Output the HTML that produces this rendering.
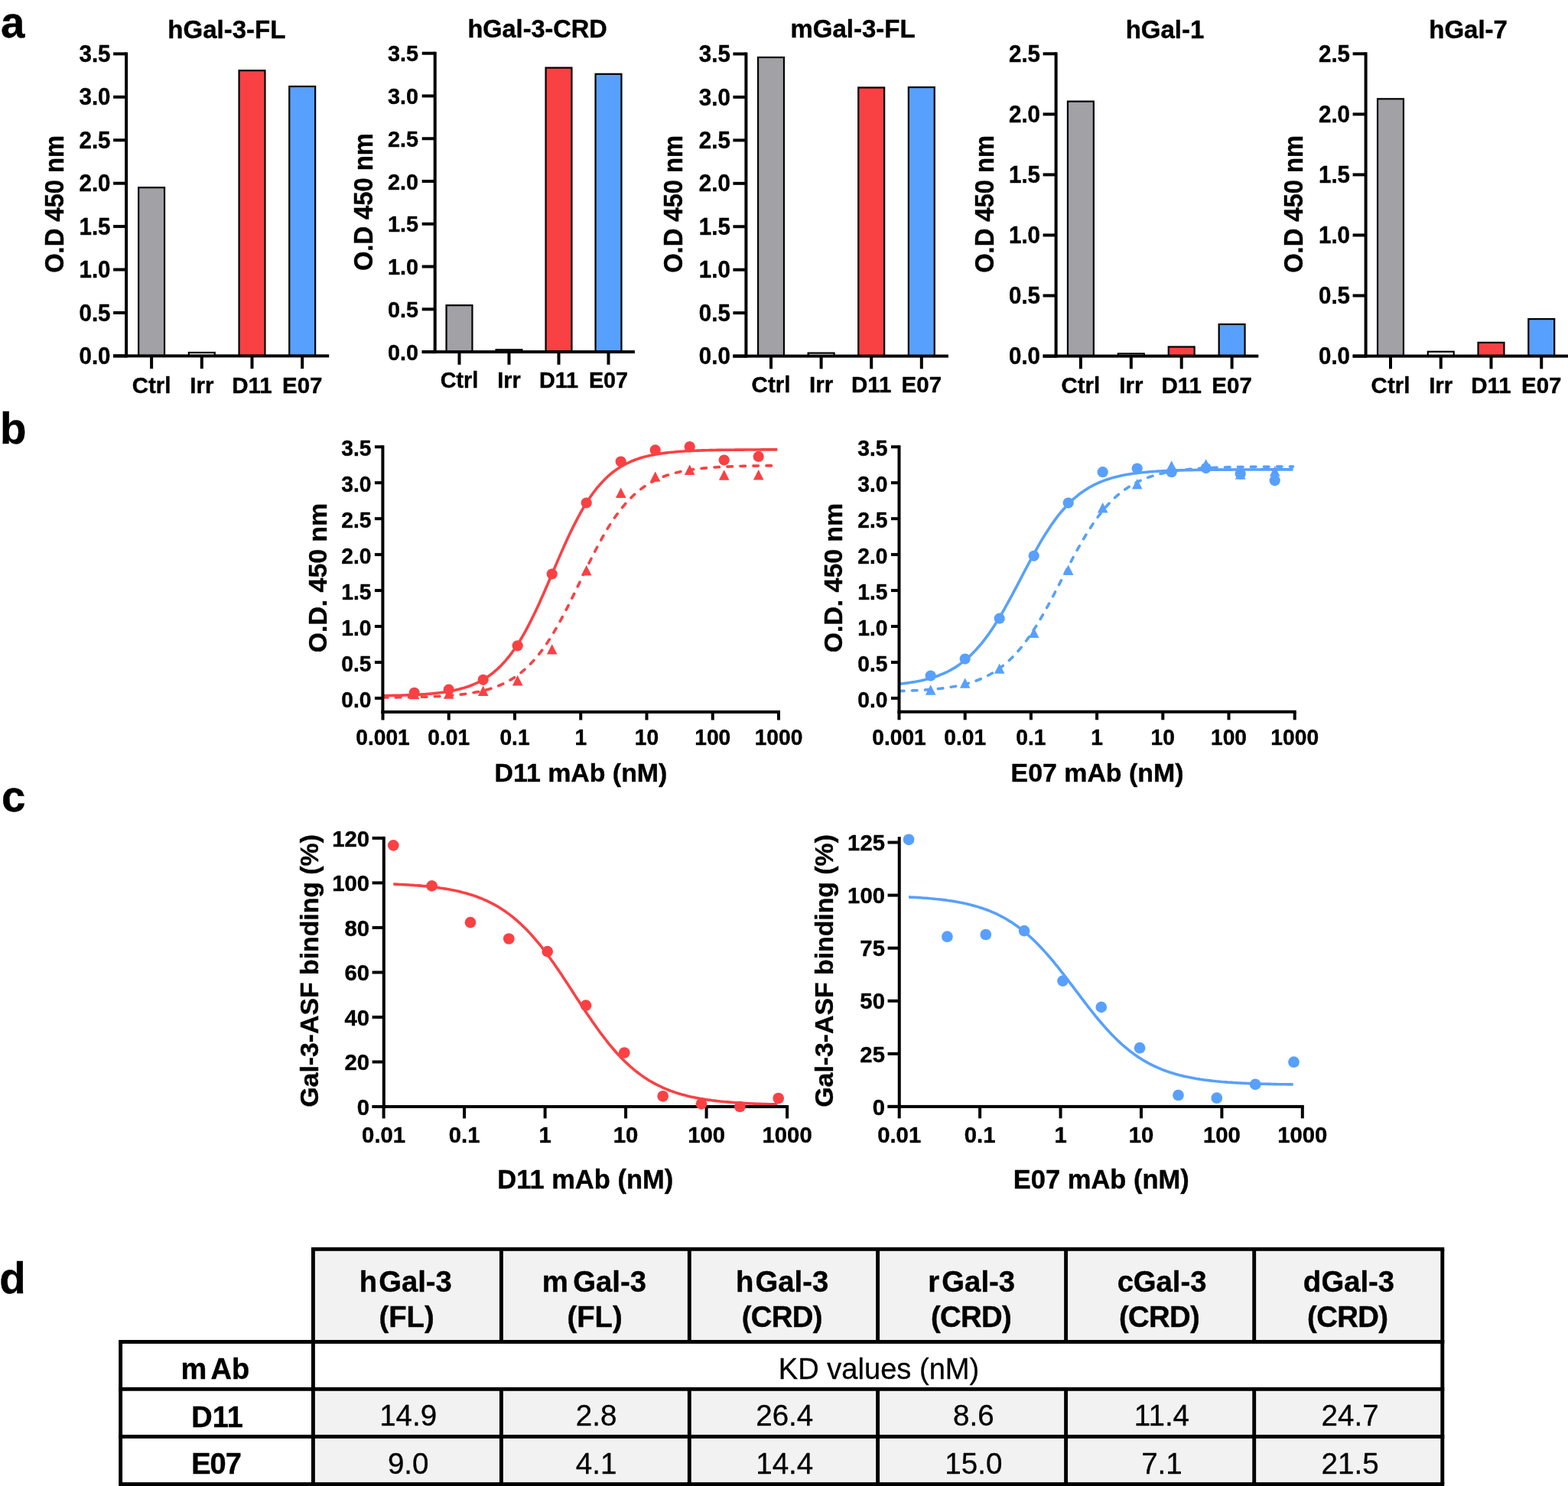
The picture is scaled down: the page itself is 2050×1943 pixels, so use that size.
<!DOCTYPE html>
<html lang="en"><head><meta charset="utf-8"><title>Figure</title>
<style>html,body{margin:0;padding:0;background:#fff}body{width:2050px;height:1943px}svg{display:block}</style>
</head><body>
<svg width="2050" height="1943" viewBox="0 0 2050 1943" font-family='"Liberation Sans", sans-serif' font-weight="bold" fill="#000" stroke="none">
<rect x="0.00" y="0.00" width="2050.00" height="1943.00" fill="#fff"/>
<rect x="181.15" y="245.20" width="33.90" height="220.20" fill="#a2a1a6" stroke="#000" stroke-width="2.2"/>
<rect x="246.85" y="461.00" width="33.90" height="4.40" fill="#ffffff" stroke="#000" stroke-width="2.2"/>
<rect x="312.55" y="92.20" width="33.90" height="373.20" fill="#f94144" stroke="#000" stroke-width="2.2"/>
<rect x="378.25" y="113.00" width="33.90" height="352.40" fill="#57a0fd" stroke="#000" stroke-width="2.2"/>
<rect x="163.10" y="68.40" width="4.00" height="399.00" fill="#000"/>
<rect x="148.10" y="463.40" width="282.10" height="4.00" fill="#000"/>
<rect x="148.10" y="68.40" width="17.00" height="4.00" fill="#000"/>
<text transform="translate(144.50 81.00) scale(1 1.05)" font-size="29.5" text-anchor="end" stroke="#000" stroke-width="0.4" stroke-linejoin="round">3.5</text>
<rect x="148.10" y="124.83" width="17.00" height="4.00" fill="#000"/>
<text transform="translate(144.50 137.43) scale(1 1.05)" font-size="29.5" text-anchor="end" stroke="#000" stroke-width="0.4" stroke-linejoin="round">3.0</text>
<rect x="148.10" y="181.26" width="17.00" height="4.00" fill="#000"/>
<text transform="translate(144.50 193.86) scale(1 1.05)" font-size="29.5" text-anchor="end" stroke="#000" stroke-width="0.4" stroke-linejoin="round">2.5</text>
<rect x="148.10" y="237.69" width="17.00" height="4.00" fill="#000"/>
<text transform="translate(144.50 250.29) scale(1 1.05)" font-size="29.5" text-anchor="end" stroke="#000" stroke-width="0.4" stroke-linejoin="round">2.0</text>
<rect x="148.10" y="294.11" width="17.00" height="4.00" fill="#000"/>
<text transform="translate(144.50 306.71) scale(1 1.05)" font-size="29.5" text-anchor="end" stroke="#000" stroke-width="0.4" stroke-linejoin="round">1.5</text>
<rect x="148.10" y="350.54" width="17.00" height="4.00" fill="#000"/>
<text transform="translate(144.50 363.14) scale(1 1.05)" font-size="29.5" text-anchor="end" stroke="#000" stroke-width="0.4" stroke-linejoin="round">1.0</text>
<rect x="148.10" y="406.97" width="17.00" height="4.00" fill="#000"/>
<text transform="translate(144.50 419.57) scale(1 1.05)" font-size="29.5" text-anchor="end" stroke="#000" stroke-width="0.4" stroke-linejoin="round">0.5</text>
<rect x="148.10" y="463.40" width="17.00" height="4.00" fill="#000"/>
<text transform="translate(144.50 476.00) scale(1 1.05)" font-size="29.5" text-anchor="end" stroke="#000" stroke-width="0.4" stroke-linejoin="round">0.0</text>
<rect x="196.10" y="465.40" width="4.00" height="16.70" fill="#000"/>
<text transform="translate(198.10 513.60)" font-size="29.5" text-anchor="middle" stroke="#000" stroke-width="0.4" stroke-linejoin="round">Ctrl</text>
<rect x="261.80" y="465.40" width="4.00" height="16.70" fill="#000"/>
<text transform="translate(263.80 513.60)" font-size="29.5" text-anchor="middle" stroke="#000" stroke-width="0.4" stroke-linejoin="round">Irr</text>
<rect x="327.50" y="465.40" width="4.00" height="16.70" fill="#000"/>
<text transform="translate(329.50 513.60)" font-size="29.5" text-anchor="middle" stroke="#000" stroke-width="0.4" stroke-linejoin="round">D11</text>
<rect x="393.20" y="465.40" width="4.00" height="16.70" fill="#000"/>
<text transform="translate(395.20 513.60)" font-size="29.5" text-anchor="middle" stroke="#000" stroke-width="0.4" stroke-linejoin="round">E07</text>
<text transform="translate(296.30 49.70)" font-size="33" text-anchor="middle" stroke="#000" stroke-width="0.4" stroke-linejoin="round">hGal-3-FL</text>
<text transform="translate(83.00 266.90) rotate(-90) scale(1 1.065)" font-size="32.7" text-anchor="middle" stroke="#000" stroke-width="0.4" stroke-linejoin="round">O.D 450 nm</text>
<rect x="583.55" y="399.20" width="33.90" height="60.90" fill="#a2a1a6" stroke="#000" stroke-width="2.2"/>
<rect x="648.55" y="457.30" width="33.90" height="2.80" fill="#ffffff" stroke="#000" stroke-width="2.2"/>
<rect x="713.55" y="88.60" width="33.90" height="371.50" fill="#f94144" stroke="#000" stroke-width="2.2"/>
<rect x="778.55" y="96.80" width="33.90" height="363.30" fill="#57a0fd" stroke="#000" stroke-width="2.2"/>
<rect x="566.70" y="67.70" width="4.00" height="394.40" fill="#000"/>
<rect x="551.70" y="458.10" width="278.20" height="4.00" fill="#000"/>
<rect x="551.70" y="67.70" width="17.00" height="4.00" fill="#000"/>
<text transform="translate(546.90 80.30) scale(1 1.05)" font-size="28.8" text-anchor="end" stroke="#000" stroke-width="0.4" stroke-linejoin="round">3.5</text>
<rect x="551.70" y="123.47" width="17.00" height="4.00" fill="#000"/>
<text transform="translate(546.90 136.07) scale(1 1.05)" font-size="28.8" text-anchor="end" stroke="#000" stroke-width="0.4" stroke-linejoin="round">3.0</text>
<rect x="551.70" y="179.24" width="17.00" height="4.00" fill="#000"/>
<text transform="translate(546.90 191.84) scale(1 1.05)" font-size="28.8" text-anchor="end" stroke="#000" stroke-width="0.4" stroke-linejoin="round">2.5</text>
<rect x="551.70" y="235.01" width="17.00" height="4.00" fill="#000"/>
<text transform="translate(546.90 247.61) scale(1 1.05)" font-size="28.8" text-anchor="end" stroke="#000" stroke-width="0.4" stroke-linejoin="round">2.0</text>
<rect x="551.70" y="290.79" width="17.00" height="4.00" fill="#000"/>
<text transform="translate(546.90 303.39) scale(1 1.05)" font-size="28.8" text-anchor="end" stroke="#000" stroke-width="0.4" stroke-linejoin="round">1.5</text>
<rect x="551.70" y="346.56" width="17.00" height="4.00" fill="#000"/>
<text transform="translate(546.90 359.16) scale(1 1.05)" font-size="28.8" text-anchor="end" stroke="#000" stroke-width="0.4" stroke-linejoin="round">1.0</text>
<rect x="551.70" y="402.33" width="17.00" height="4.00" fill="#000"/>
<text transform="translate(546.90 414.93) scale(1 1.05)" font-size="28.8" text-anchor="end" stroke="#000" stroke-width="0.4" stroke-linejoin="round">0.5</text>
<rect x="551.70" y="458.10" width="17.00" height="4.00" fill="#000"/>
<text transform="translate(546.90 470.70) scale(1 1.05)" font-size="28.8" text-anchor="end" stroke="#000" stroke-width="0.4" stroke-linejoin="round">0.0</text>
<rect x="598.50" y="460.10" width="4.00" height="16.70" fill="#000"/>
<text transform="translate(600.50 507.10)" font-size="28.8" text-anchor="middle" stroke="#000" stroke-width="0.4" stroke-linejoin="round">Ctrl</text>
<rect x="663.50" y="460.10" width="4.00" height="16.70" fill="#000"/>
<text transform="translate(665.50 507.10)" font-size="28.8" text-anchor="middle" stroke="#000" stroke-width="0.4" stroke-linejoin="round">Irr</text>
<rect x="728.50" y="460.10" width="4.00" height="16.70" fill="#000"/>
<text transform="translate(730.50 507.10)" font-size="28.8" text-anchor="middle" stroke="#000" stroke-width="0.4" stroke-linejoin="round">D11</text>
<rect x="793.50" y="460.10" width="4.00" height="16.70" fill="#000"/>
<text transform="translate(795.50 507.10)" font-size="28.8" text-anchor="middle" stroke="#000" stroke-width="0.4" stroke-linejoin="round">E07</text>
<text transform="translate(702.60 49.40)" font-size="32.5" text-anchor="middle" stroke="#000" stroke-width="0.4" stroke-linejoin="round">hGal-3-CRD</text>
<text transform="translate(487.00 264.20) rotate(-90) scale(1 1.065)" font-size="32.7" text-anchor="middle" stroke="#000" stroke-width="0.4" stroke-linejoin="round">O.D 450 nm</text>
<rect x="991.05" y="75.00" width="33.90" height="390.60" fill="#a2a1a6" stroke="#000" stroke-width="2.2"/>
<rect x="1056.65" y="461.60" width="33.90" height="4.00" fill="#ffffff" stroke="#000" stroke-width="2.2"/>
<rect x="1122.25" y="114.50" width="33.90" height="351.10" fill="#f94144" stroke="#000" stroke-width="2.2"/>
<rect x="1187.85" y="114.10" width="33.90" height="351.50" fill="#57a0fd" stroke="#000" stroke-width="2.2"/>
<rect x="973.40" y="68.50" width="4.00" height="399.10" fill="#000"/>
<rect x="958.40" y="463.60" width="281.50" height="4.00" fill="#000"/>
<rect x="958.40" y="68.50" width="17.00" height="4.00" fill="#000"/>
<text transform="translate(954.80 81.10) scale(1 1.05)" font-size="29.5" text-anchor="end" stroke="#000" stroke-width="0.4" stroke-linejoin="round">3.5</text>
<rect x="958.40" y="124.94" width="17.00" height="4.00" fill="#000"/>
<text transform="translate(954.80 137.54) scale(1 1.05)" font-size="29.5" text-anchor="end" stroke="#000" stroke-width="0.4" stroke-linejoin="round">3.0</text>
<rect x="958.40" y="181.39" width="17.00" height="4.00" fill="#000"/>
<text transform="translate(954.80 193.99) scale(1 1.05)" font-size="29.5" text-anchor="end" stroke="#000" stroke-width="0.4" stroke-linejoin="round">2.5</text>
<rect x="958.40" y="237.83" width="17.00" height="4.00" fill="#000"/>
<text transform="translate(954.80 250.43) scale(1 1.05)" font-size="29.5" text-anchor="end" stroke="#000" stroke-width="0.4" stroke-linejoin="round">2.0</text>
<rect x="958.40" y="294.27" width="17.00" height="4.00" fill="#000"/>
<text transform="translate(954.80 306.87) scale(1 1.05)" font-size="29.5" text-anchor="end" stroke="#000" stroke-width="0.4" stroke-linejoin="round">1.5</text>
<rect x="958.40" y="350.71" width="17.00" height="4.00" fill="#000"/>
<text transform="translate(954.80 363.31) scale(1 1.05)" font-size="29.5" text-anchor="end" stroke="#000" stroke-width="0.4" stroke-linejoin="round">1.0</text>
<rect x="958.40" y="407.16" width="17.00" height="4.00" fill="#000"/>
<text transform="translate(954.80 419.76) scale(1 1.05)" font-size="29.5" text-anchor="end" stroke="#000" stroke-width="0.4" stroke-linejoin="round">0.5</text>
<rect x="958.40" y="463.60" width="17.00" height="4.00" fill="#000"/>
<text transform="translate(954.80 476.20) scale(1 1.05)" font-size="29.5" text-anchor="end" stroke="#000" stroke-width="0.4" stroke-linejoin="round">0.0</text>
<rect x="1006.00" y="465.60" width="4.00" height="16.70" fill="#000"/>
<text transform="translate(1008.00 513.40)" font-size="29.5" text-anchor="middle" stroke="#000" stroke-width="0.4" stroke-linejoin="round">Ctrl</text>
<rect x="1071.60" y="465.60" width="4.00" height="16.70" fill="#000"/>
<text transform="translate(1073.60 513.40)" font-size="29.5" text-anchor="middle" stroke="#000" stroke-width="0.4" stroke-linejoin="round">Irr</text>
<rect x="1137.20" y="465.60" width="4.00" height="16.70" fill="#000"/>
<text transform="translate(1139.20 513.40)" font-size="29.5" text-anchor="middle" stroke="#000" stroke-width="0.4" stroke-linejoin="round">D11</text>
<rect x="1202.80" y="465.60" width="4.00" height="16.70" fill="#000"/>
<text transform="translate(1204.80 513.40)" font-size="29.5" text-anchor="middle" stroke="#000" stroke-width="0.4" stroke-linejoin="round">E07</text>
<text transform="translate(1115.00 49.20)" font-size="33" text-anchor="middle" stroke="#000" stroke-width="0.4" stroke-linejoin="round">mGal-3-FL</text>
<text transform="translate(892.00 266.90) rotate(-90) scale(1 1.065)" font-size="32.7" text-anchor="middle" stroke="#000" stroke-width="0.4" stroke-linejoin="round">O.D 450 nm</text>
<rect x="1395.95" y="132.60" width="33.90" height="333.00" fill="#a2a1a6" stroke="#000" stroke-width="2.2"/>
<rect x="1461.85" y="462.40" width="33.90" height="3.20" fill="#ffffff" stroke="#000" stroke-width="2.2"/>
<rect x="1527.75" y="453.50" width="33.90" height="12.10" fill="#f94144" stroke="#000" stroke-width="2.2"/>
<rect x="1593.65" y="424.00" width="33.90" height="41.60" fill="#57a0fd" stroke="#000" stroke-width="2.2"/>
<rect x="1378.60" y="68.30" width="4.00" height="399.30" fill="#000"/>
<rect x="1363.60" y="463.60" width="281.70" height="4.00" fill="#000"/>
<rect x="1363.60" y="68.30" width="17.00" height="4.00" fill="#000"/>
<text transform="translate(1360.00 80.90) scale(1 1.05)" font-size="29.5" text-anchor="end" stroke="#000" stroke-width="0.4" stroke-linejoin="round">2.5</text>
<rect x="1363.60" y="147.36" width="17.00" height="4.00" fill="#000"/>
<text transform="translate(1360.00 159.96) scale(1 1.05)" font-size="29.5" text-anchor="end" stroke="#000" stroke-width="0.4" stroke-linejoin="round">2.0</text>
<rect x="1363.60" y="226.42" width="17.00" height="4.00" fill="#000"/>
<text transform="translate(1360.00 239.02) scale(1 1.05)" font-size="29.5" text-anchor="end" stroke="#000" stroke-width="0.4" stroke-linejoin="round">1.5</text>
<rect x="1363.60" y="305.48" width="17.00" height="4.00" fill="#000"/>
<text transform="translate(1360.00 318.08) scale(1 1.05)" font-size="29.5" text-anchor="end" stroke="#000" stroke-width="0.4" stroke-linejoin="round">1.0</text>
<rect x="1363.60" y="384.54" width="17.00" height="4.00" fill="#000"/>
<text transform="translate(1360.00 397.14) scale(1 1.05)" font-size="29.5" text-anchor="end" stroke="#000" stroke-width="0.4" stroke-linejoin="round">0.5</text>
<rect x="1363.60" y="463.60" width="17.00" height="4.00" fill="#000"/>
<text transform="translate(1360.00 476.20) scale(1 1.05)" font-size="29.5" text-anchor="end" stroke="#000" stroke-width="0.4" stroke-linejoin="round">0.0</text>
<rect x="1410.90" y="465.60" width="4.00" height="16.70" fill="#000"/>
<text transform="translate(1412.90 513.60)" font-size="29.5" text-anchor="middle" stroke="#000" stroke-width="0.4" stroke-linejoin="round">Ctrl</text>
<rect x="1476.80" y="465.60" width="4.00" height="16.70" fill="#000"/>
<text transform="translate(1478.80 513.60)" font-size="29.5" text-anchor="middle" stroke="#000" stroke-width="0.4" stroke-linejoin="round">Irr</text>
<rect x="1542.70" y="465.60" width="4.00" height="16.70" fill="#000"/>
<text transform="translate(1544.70 513.60)" font-size="29.5" text-anchor="middle" stroke="#000" stroke-width="0.4" stroke-linejoin="round">D11</text>
<rect x="1608.60" y="465.60" width="4.00" height="16.70" fill="#000"/>
<text transform="translate(1610.60 513.60)" font-size="29.5" text-anchor="middle" stroke="#000" stroke-width="0.4" stroke-linejoin="round">E07</text>
<text transform="translate(1523.00 49.50)" font-size="33" text-anchor="middle" stroke="#000" stroke-width="0.4" stroke-linejoin="round">hGal-1</text>
<text transform="translate(1298.50 266.90) rotate(-90) scale(1 1.065)" font-size="32.7" text-anchor="middle" stroke="#000" stroke-width="0.4" stroke-linejoin="round">O.D 450 nm</text>
<rect x="1801.05" y="129.30" width="33.90" height="336.30" fill="#a2a1a6" stroke="#000" stroke-width="2.2"/>
<rect x="1866.80" y="459.80" width="33.90" height="5.80" fill="#ffffff" stroke="#000" stroke-width="2.2"/>
<rect x="1932.55" y="447.90" width="33.90" height="17.70" fill="#f94144" stroke="#000" stroke-width="2.2"/>
<rect x="1998.30" y="417.10" width="33.90" height="48.50" fill="#57a0fd" stroke="#000" stroke-width="2.2"/>
<rect x="1783.60" y="68.30" width="4.00" height="399.30" fill="#000"/>
<rect x="1768.60" y="463.60" width="281.40" height="4.00" fill="#000"/>
<rect x="1768.60" y="68.30" width="17.00" height="4.00" fill="#000"/>
<text transform="translate(1765.00 80.90) scale(1 1.05)" font-size="29.5" text-anchor="end" stroke="#000" stroke-width="0.4" stroke-linejoin="round">2.5</text>
<rect x="1768.60" y="147.36" width="17.00" height="4.00" fill="#000"/>
<text transform="translate(1765.00 159.96) scale(1 1.05)" font-size="29.5" text-anchor="end" stroke="#000" stroke-width="0.4" stroke-linejoin="round">2.0</text>
<rect x="1768.60" y="226.42" width="17.00" height="4.00" fill="#000"/>
<text transform="translate(1765.00 239.02) scale(1 1.05)" font-size="29.5" text-anchor="end" stroke="#000" stroke-width="0.4" stroke-linejoin="round">1.5</text>
<rect x="1768.60" y="305.48" width="17.00" height="4.00" fill="#000"/>
<text transform="translate(1765.00 318.08) scale(1 1.05)" font-size="29.5" text-anchor="end" stroke="#000" stroke-width="0.4" stroke-linejoin="round">1.0</text>
<rect x="1768.60" y="384.54" width="17.00" height="4.00" fill="#000"/>
<text transform="translate(1765.00 397.14) scale(1 1.05)" font-size="29.5" text-anchor="end" stroke="#000" stroke-width="0.4" stroke-linejoin="round">0.5</text>
<rect x="1768.60" y="463.60" width="17.00" height="4.00" fill="#000"/>
<text transform="translate(1765.00 476.20) scale(1 1.05)" font-size="29.5" text-anchor="end" stroke="#000" stroke-width="0.4" stroke-linejoin="round">0.0</text>
<rect x="1816.00" y="465.60" width="4.00" height="16.70" fill="#000"/>
<text transform="translate(1818.00 513.60)" font-size="29.5" text-anchor="middle" stroke="#000" stroke-width="0.4" stroke-linejoin="round">Ctrl</text>
<rect x="1881.75" y="465.60" width="4.00" height="16.70" fill="#000"/>
<text transform="translate(1883.75 513.60)" font-size="29.5" text-anchor="middle" stroke="#000" stroke-width="0.4" stroke-linejoin="round">Irr</text>
<rect x="1947.50" y="465.60" width="4.00" height="16.70" fill="#000"/>
<text transform="translate(1949.50 513.60)" font-size="29.5" text-anchor="middle" stroke="#000" stroke-width="0.4" stroke-linejoin="round">D11</text>
<rect x="2013.25" y="465.60" width="4.00" height="16.70" fill="#000"/>
<text transform="translate(2015.25 513.60)" font-size="29.5" text-anchor="middle" stroke="#000" stroke-width="0.4" stroke-linejoin="round">E07</text>
<text transform="translate(1919.60 49.50)" font-size="33" text-anchor="middle" stroke="#000" stroke-width="0.4" stroke-linejoin="round">hGal-7</text>
<text transform="translate(1702.50 266.90) rotate(-90) scale(1 1.065)" font-size="32.7" text-anchor="middle" stroke="#000" stroke-width="0.4" stroke-linejoin="round">O.D 450 nm</text>
<path d="M500.4,909.7 L503.0,909.6 L505.6,909.6 L508.2,909.5 L510.8,909.5 L513.4,909.4 L516.0,909.4 L518.5,909.3 L521.1,909.3 L523.7,909.2 L526.3,909.1 L528.9,909.0 L531.5,908.9 L534.1,908.8 L536.7,908.7 L539.3,908.6 L541.9,908.5 L544.5,908.4 L547.1,908.2 L549.7,908.1 L552.2,907.9 L554.8,907.7 L557.4,907.5 L560.0,907.3 L562.6,907.1 L565.2,906.9 L567.8,906.6 L570.4,906.3 L573.0,906.0 L575.6,905.7 L578.2,905.4 L580.8,905.0 L583.4,904.6 L586.0,904.2 L588.5,903.7 L591.1,903.2 L593.7,902.7 L596.3,902.1 L598.9,901.5 L601.5,900.8 L604.1,900.1 L606.7,899.4 L609.3,898.5 L611.9,897.7 L614.5,896.7 L617.1,895.7 L619.7,894.7 L622.2,893.5 L624.8,892.3 L627.4,891.0 L630.0,889.5 L632.6,888.0 L635.2,886.4 L637.8,884.7 L640.4,882.9 L643.0,881.0 L645.6,878.9 L648.2,876.7 L650.8,874.4 L653.4,871.9 L655.9,869.3 L658.5,866.5 L661.1,863.6 L663.7,860.5 L666.3,857.3 L668.9,853.9 L671.5,850.3 L674.1,846.5 L676.7,842.6 L679.3,838.5 L681.9,834.2 L684.5,829.7 L687.1,825.1 L689.6,820.3 L692.2,815.3 L694.8,810.2 L697.4,805.0 L700.0,799.5 L702.6,794.0 L705.2,788.4 L707.8,782.6 L710.4,776.8 L713.0,770.8 L715.6,764.8 L718.2,758.8 L720.8,752.8 L723.4,746.7 L725.9,740.6 L728.5,734.6 L731.1,728.6 L733.7,722.6 L736.3,716.8 L738.9,711.0 L741.5,705.3 L744.1,699.8 L746.7,694.3 L749.3,689.0 L751.9,683.9 L754.5,678.9 L757.1,674.0 L759.6,669.4 L762.2,664.9 L764.8,660.5 L767.4,656.4 L770.0,652.4 L772.6,648.6 L775.2,645.0 L777.8,641.5 L780.4,638.2 L783.0,635.1 L785.6,632.2 L788.2,629.4 L790.8,626.7 L793.3,624.2 L795.9,621.8 L798.5,619.6 L801.1,617.5 L803.7,615.6 L806.3,613.7 L808.9,612.0 L811.5,610.3 L814.1,608.8 L816.7,607.4 L819.3,606.0 L821.9,604.8 L824.5,603.6 L827.1,602.5 L829.6,601.5 L832.2,600.6 L834.8,599.7 L837.4,598.8 L840.0,598.1 L842.6,597.3 L845.2,596.7 L847.8,596.0 L850.4,595.5 L853.0,594.9 L855.6,594.4 L858.2,594.0 L860.8,593.5 L863.3,593.1 L865.9,592.7 L868.5,592.4 L871.1,592.1 L873.7,591.8 L876.3,591.5 L878.9,591.2 L881.5,591.0 L884.1,590.7 L886.7,590.5 L889.3,590.3 L891.9,590.2 L894.5,590.0 L897.0,589.8 L899.6,589.7 L902.2,589.6 L904.8,589.4 L907.4,589.3 L910.0,589.2 L912.6,589.1 L915.2,589.0 L917.8,588.9 L920.4,588.9 L923.0,588.8 L925.6,588.7 L928.2,588.6 L930.7,588.6 L933.3,588.5 L935.9,588.5 L938.5,588.4 L941.1,588.4 L943.7,588.3 L946.3,588.3 L948.9,588.3 L951.5,588.2 L954.1,588.2 L956.7,588.2 L959.3,588.2 L961.9,588.1 L964.5,588.1 L967.0,588.1 L969.6,588.1 L972.2,588.1 L974.8,588.0 L977.4,588.0 L980.0,588.0 L982.6,588.0 L985.2,588.0 L987.8,588.0 L990.4,588.0 L993.0,588.0 L995.6,587.9 L998.2,587.9 L1000.7,587.9 L1003.3,587.9 L1005.9,587.9 L1008.5,587.9 L1011.1,587.9 L1013.7,587.9 L1016.3,587.9" fill="none" stroke="#f94144" stroke-width="3.6"/>
<path d="M500.4,912.0 L503.0,912.0 L505.6,912.0 L508.2,912.0 L510.8,912.0 L513.4,911.9 L516.0,911.9 L518.5,911.9 L521.1,911.8 L523.7,911.8 L526.3,911.8 L528.9,911.7 L531.5,911.7 L534.1,911.6 L536.7,911.6 L539.3,911.5 L541.9,911.5 L544.5,911.4 L547.1,911.4 L549.7,911.3 L552.2,911.2 L554.8,911.1 L557.4,911.1 L560.0,911.0 L562.6,910.9 L565.2,910.8 L567.8,910.7 L570.4,910.5 L573.0,910.4 L575.6,910.3 L578.2,910.1 L580.8,910.0 L583.4,909.8 L586.0,909.6 L588.5,909.4 L591.1,909.2 L593.7,909.0 L596.3,908.7 L598.9,908.5 L601.5,908.2 L604.1,907.9 L606.7,907.6 L609.3,907.2 L611.9,906.9 L614.5,906.5 L617.1,906.1 L619.7,905.6 L622.2,905.1 L624.8,904.6 L627.4,904.1 L630.0,903.5 L632.6,902.8 L635.2,902.2 L637.8,901.5 L640.4,900.7 L643.0,899.9 L645.6,899.0 L648.2,898.1 L650.8,897.1 L653.4,896.0 L655.9,894.9 L658.5,893.7 L661.1,892.4 L663.7,891.0 L666.3,889.6 L668.9,888.1 L671.5,886.4 L674.1,884.7 L676.7,882.9 L679.3,880.9 L681.9,878.9 L684.5,876.7 L687.1,874.4 L689.6,872.0 L692.2,869.5 L694.8,866.8 L697.4,864.0 L700.0,861.0 L702.6,857.9 L705.2,854.7 L707.8,851.3 L710.4,847.8 L713.0,844.1 L715.6,840.3 L718.2,836.3 L720.8,832.2 L723.4,828.0 L725.9,823.6 L728.5,819.1 L731.1,814.4 L733.7,809.7 L736.3,804.8 L738.9,799.8 L741.5,794.8 L744.1,789.6 L746.7,784.4 L749.3,779.1 L751.9,773.8 L754.5,768.5 L757.1,763.1 L759.6,757.7 L762.2,752.3 L764.8,747.0 L767.4,741.7 L770.0,736.4 L772.6,731.2 L775.2,726.0 L777.8,721.0 L780.4,716.0 L783.0,711.1 L785.6,706.4 L788.2,701.7 L790.8,697.2 L793.3,692.8 L795.9,688.6 L798.5,684.5 L801.1,680.5 L803.7,676.7 L806.3,673.0 L808.9,669.5 L811.5,666.1 L814.1,662.9 L816.7,659.8 L819.3,656.8 L821.9,654.0 L824.5,651.3 L827.1,648.8 L829.6,646.4 L832.2,644.1 L834.8,641.9 L837.4,639.9 L840.0,637.9 L842.6,636.1 L845.2,634.4 L847.8,632.8 L850.4,631.2 L853.0,629.8 L855.6,628.4 L858.2,627.1 L860.8,625.9 L863.3,624.8 L865.9,623.8 L868.5,622.8 L871.1,621.8 L873.7,621.0 L876.3,620.1 L878.9,619.4 L881.5,618.7 L884.1,618.0 L886.7,617.4 L889.3,616.8 L891.9,616.2 L894.5,615.7 L897.0,615.2 L899.6,614.8 L902.2,614.4 L904.8,614.0 L907.4,613.6 L910.0,613.3 L912.6,612.9 L915.2,612.6 L917.8,612.4 L920.4,612.1 L923.0,611.9 L925.6,611.6 L928.2,611.4 L930.7,611.2 L933.3,611.0 L935.9,610.9 L938.5,610.7 L941.1,610.6 L943.7,610.4 L946.3,610.3 L948.9,610.2 L951.5,610.1 L954.1,610.0 L956.7,609.9 L959.3,609.8 L961.9,609.7 L964.5,609.6 L967.0,609.5 L969.6,609.5 L972.2,609.4 L974.8,609.3 L977.4,609.3 L980.0,609.2 L982.6,609.2 L985.2,609.1 L987.8,609.1 L990.4,609.1 L993.0,609.0 L995.6,609.0 L998.2,609.0 L1000.7,608.9 L1003.3,608.9 L1005.9,608.9 L1008.5,608.9 L1011.1,608.8 L1013.7,608.8 L1016.3,608.8" fill="none" stroke="#f94144" stroke-width="3.6" stroke-dasharray="6.5 10.5" stroke-linecap="round"/>
<circle cx="541.7" cy="905.8" r="7.1" fill="#f94144"/>
<circle cx="586.7" cy="901.7" r="7.1" fill="#f94144"/>
<circle cx="631.7" cy="888.8" r="7.1" fill="#f94144"/>
<circle cx="676.7" cy="844.3" r="7.1" fill="#f94144"/>
<circle cx="721.7" cy="750.5" r="7.1" fill="#f94144"/>
<circle cx="766.7" cy="657.5" r="7.1" fill="#f94144"/>
<circle cx="811.7" cy="603.6" r="7.1" fill="#f94144"/>
<circle cx="856.7" cy="588.4" r="7.1" fill="#f94144"/>
<circle cx="901.7" cy="584.0" r="7.1" fill="#f94144"/>
<circle cx="946.7" cy="601.5" r="7.1" fill="#f94144"/>
<circle cx="991.7" cy="596.9" r="7.1" fill="#f94144"/>
<path d="M541.7,900.9 L548.5,914.3 L534.9,914.3Z" fill="#f94144"/>
<path d="M586.7,900.4 L593.5,913.8 L579.9,913.8Z" fill="#f94144"/>
<path d="M631.7,896.5 L638.5,909.9 L624.9,909.9Z" fill="#f94144"/>
<path d="M676.7,883.1 L683.5,896.5 L669.9,896.5Z" fill="#f94144"/>
<path d="M721.7,842.2 L728.5,855.6 L714.9,855.6Z" fill="#f94144"/>
<path d="M766.7,739.1 L773.5,752.5 L759.9,752.5Z" fill="#f94144"/>
<path d="M811.7,637.5 L818.5,650.9 L804.9,650.9Z" fill="#f94144"/>
<path d="M856.7,616.4 L863.5,629.8 L849.9,629.8Z" fill="#f94144"/>
<path d="M901.7,607.5 L908.5,620.9 L894.9,620.9Z" fill="#f94144"/>
<path d="M946.7,614.3 L953.5,627.7 L939.9,627.7Z" fill="#f94144"/>
<path d="M991.7,614.1 L998.5,627.5 L984.9,627.5Z" fill="#f94144"/>
<rect x="498.40" y="582.30" width="4.00" height="350.60" fill="#000"/>
<rect x="498.40" y="928.90" width="521.60" height="4.00" fill="#000"/>
<rect x="489.90" y="582.30" width="10.50" height="4.00" fill="#000"/>
<text transform="translate(485.40 596.06) scale(1 1.03)" font-size="28.2" text-anchor="end" stroke="#000" stroke-width="0.4" stroke-linejoin="round">3.5</text>
<rect x="489.90" y="629.24" width="10.50" height="4.00" fill="#000"/>
<text transform="translate(485.40 643.00) scale(1 1.03)" font-size="28.2" text-anchor="end" stroke="#000" stroke-width="0.4" stroke-linejoin="round">3.0</text>
<rect x="489.90" y="676.19" width="10.50" height="4.00" fill="#000"/>
<text transform="translate(485.40 689.94) scale(1 1.03)" font-size="28.2" text-anchor="end" stroke="#000" stroke-width="0.4" stroke-linejoin="round">2.5</text>
<rect x="489.90" y="723.13" width="10.50" height="4.00" fill="#000"/>
<text transform="translate(485.40 736.89) scale(1 1.03)" font-size="28.2" text-anchor="end" stroke="#000" stroke-width="0.4" stroke-linejoin="round">2.0</text>
<rect x="489.90" y="770.07" width="10.50" height="4.00" fill="#000"/>
<text transform="translate(485.40 783.83) scale(1 1.03)" font-size="28.2" text-anchor="end" stroke="#000" stroke-width="0.4" stroke-linejoin="round">1.5</text>
<rect x="489.90" y="817.01" width="10.50" height="4.00" fill="#000"/>
<text transform="translate(485.40 830.77) scale(1 1.03)" font-size="28.2" text-anchor="end" stroke="#000" stroke-width="0.4" stroke-linejoin="round">1.0</text>
<rect x="489.90" y="863.96" width="10.50" height="4.00" fill="#000"/>
<text transform="translate(485.40 877.72) scale(1 1.03)" font-size="28.2" text-anchor="end" stroke="#000" stroke-width="0.4" stroke-linejoin="round">0.5</text>
<rect x="489.90" y="910.90" width="10.50" height="4.00" fill="#000"/>
<text transform="translate(485.40 924.66) scale(1 1.03)" font-size="28.2" text-anchor="end" stroke="#000" stroke-width="0.4" stroke-linejoin="round">0.0</text>
<rect x="498.50" y="930.90" width="4.00" height="10.60" fill="#000"/>
<text transform="translate(500.50 974.20) scale(1 1.065)" font-size="28.2" text-anchor="middle" stroke="#000" stroke-width="0.4" stroke-linejoin="round">0.001</text>
<rect x="584.75" y="930.90" width="4.00" height="10.60" fill="#000"/>
<text transform="translate(586.75 974.20) scale(1 1.065)" font-size="28.2" text-anchor="middle" stroke="#000" stroke-width="0.4" stroke-linejoin="round">0.01</text>
<rect x="671.00" y="930.90" width="4.00" height="10.60" fill="#000"/>
<text transform="translate(673.00 974.20) scale(1 1.065)" font-size="28.2" text-anchor="middle" stroke="#000" stroke-width="0.4" stroke-linejoin="round">0.1</text>
<rect x="757.25" y="930.90" width="4.00" height="10.60" fill="#000"/>
<text transform="translate(759.25 974.20) scale(1 1.065)" font-size="28.2" text-anchor="middle" stroke="#000" stroke-width="0.4" stroke-linejoin="round">1</text>
<rect x="843.50" y="930.90" width="4.00" height="10.60" fill="#000"/>
<text transform="translate(845.50 974.20) scale(1 1.065)" font-size="28.2" text-anchor="middle" stroke="#000" stroke-width="0.4" stroke-linejoin="round">10</text>
<rect x="929.75" y="930.90" width="4.00" height="10.60" fill="#000"/>
<text transform="translate(931.75 974.20) scale(1 1.065)" font-size="28.2" text-anchor="middle" stroke="#000" stroke-width="0.4" stroke-linejoin="round">100</text>
<rect x="1016.00" y="930.90" width="4.00" height="10.60" fill="#000"/>
<text transform="translate(1018.00 974.20) scale(1 1.065)" font-size="28.2" text-anchor="middle" stroke="#000" stroke-width="0.4" stroke-linejoin="round">1000</text>
<text transform="translate(759.40 1021.60)" font-size="33.9" text-anchor="middle" stroke="#000" stroke-width="0.4" stroke-linejoin="round">D11 mAb (nM)</text>
<text transform="translate(427.00 755.60) rotate(-90) scale(1 0.985)" font-size="33.8" text-anchor="middle" stroke="#000" stroke-width="0.4" stroke-linejoin="round">O.D. 450 nm</text>
<path d="M1175.5,894.3 L1178.1,894.0 L1180.7,893.7 L1183.3,893.4 L1185.9,893.1 L1188.4,892.7 L1191.0,892.3 L1193.6,891.9 L1196.2,891.5 L1198.8,891.0 L1201.4,890.5 L1204.0,890.0 L1206.6,889.4 L1209.1,888.8 L1211.7,888.1 L1214.3,887.4 L1216.9,886.7 L1219.5,885.9 L1222.1,885.1 L1224.7,884.2 L1227.3,883.2 L1229.8,882.2 L1232.4,881.1 L1235.0,880.0 L1237.6,878.8 L1240.2,877.5 L1242.8,876.1 L1245.4,874.6 L1248.0,873.1 L1250.6,871.4 L1253.1,869.7 L1255.7,867.9 L1258.3,865.9 L1260.9,863.9 L1263.5,861.7 L1266.1,859.5 L1268.7,857.1 L1271.3,854.6 L1273.8,851.9 L1276.4,849.2 L1279.0,846.3 L1281.6,843.3 L1284.2,840.1 L1286.8,836.9 L1289.4,833.4 L1292.0,829.9 L1294.5,826.2 L1297.1,822.4 L1299.7,818.5 L1302.3,814.4 L1304.9,810.2 L1307.5,806.0 L1310.1,801.6 L1312.7,797.1 L1315.2,792.5 L1317.8,787.8 L1320.4,783.1 L1323.0,778.3 L1325.6,773.4 L1328.2,768.6 L1330.8,763.6 L1333.4,758.7 L1336.0,753.7 L1338.5,748.8 L1341.1,743.9 L1343.7,739.0 L1346.3,734.1 L1348.9,729.3 L1351.5,724.6 L1354.1,719.9 L1356.7,715.3 L1359.2,710.8 L1361.8,706.4 L1364.4,702.1 L1367.0,697.9 L1369.6,693.9 L1372.2,689.9 L1374.8,686.1 L1377.4,682.4 L1379.9,678.9 L1382.5,675.4 L1385.1,672.1 L1387.7,669.0 L1390.3,666.0 L1392.9,663.1 L1395.5,660.3 L1398.1,657.7 L1400.7,655.1 L1403.2,652.7 L1405.8,650.5 L1408.4,648.3 L1411.0,646.2 L1413.6,644.3 L1416.2,642.5 L1418.8,640.7 L1421.4,639.1 L1423.9,637.5 L1426.5,636.1 L1429.1,634.7 L1431.7,633.4 L1434.3,632.1 L1436.9,631.0 L1439.5,629.9 L1442.1,628.9 L1444.6,627.9 L1447.2,627.0 L1449.8,626.2 L1452.4,625.4 L1455.0,624.6 L1457.6,623.9 L1460.2,623.3 L1462.8,622.7 L1465.3,622.1 L1467.9,621.6 L1470.5,621.1 L1473.1,620.6 L1475.7,620.1 L1478.3,619.7 L1480.9,619.3 L1483.5,619.0 L1486.1,618.6 L1488.6,618.3 L1491.2,618.0 L1493.8,617.8 L1496.4,617.5 L1499.0,617.3 L1501.6,617.0 L1504.2,616.8 L1506.8,616.6 L1509.3,616.5 L1511.9,616.3 L1514.5,616.1 L1517.1,616.0 L1519.7,615.8 L1522.3,615.7 L1524.9,615.6 L1527.5,615.5 L1530.0,615.4 L1532.6,615.3 L1535.2,615.2 L1537.8,615.1 L1540.4,615.0 L1543.0,614.9 L1545.6,614.9 L1548.2,614.8 L1550.8,614.7 L1553.3,614.7 L1555.9,614.6 L1558.5,614.6 L1561.1,614.5 L1563.7,614.5 L1566.3,614.4 L1568.9,614.4 L1571.5,614.4 L1574.0,614.3 L1576.6,614.3 L1579.2,614.3 L1581.8,614.3 L1584.4,614.2 L1587.0,614.2 L1589.6,614.2 L1592.2,614.2 L1594.7,614.1 L1597.3,614.1 L1599.9,614.1 L1602.5,614.1 L1605.1,614.1 L1607.7,614.1 L1610.3,614.1 L1612.9,614.0 L1615.4,614.0 L1618.0,614.0 L1620.6,614.0 L1623.2,614.0 L1625.8,614.0 L1628.4,614.0 L1631.0,614.0 L1633.6,614.0 L1636.2,614.0 L1638.7,614.0 L1641.3,614.0 L1643.9,614.0 L1646.5,614.0 L1649.1,613.9 L1651.7,613.9 L1654.3,613.9 L1656.9,613.9 L1659.4,613.9 L1662.0,613.9 L1664.6,613.9 L1667.2,613.9 L1669.8,613.9 L1672.4,613.9 L1675.0,613.9 L1677.6,613.9 L1680.1,613.9 L1682.7,613.9 L1685.3,613.9 L1687.9,613.9 L1690.5,613.9" fill="none" stroke="#57a0fd" stroke-width="3.6"/>
<path d="M1175.5,903.6 L1178.1,903.5 L1180.7,903.4 L1183.3,903.3 L1185.9,903.2 L1188.4,903.1 L1191.0,903.0 L1193.6,902.9 L1196.2,902.8 L1198.8,902.7 L1201.4,902.5 L1204.0,902.4 L1206.6,902.2 L1209.1,902.1 L1211.7,901.9 L1214.3,901.7 L1216.9,901.5 L1219.5,901.3 L1222.1,901.0 L1224.7,900.8 L1227.3,900.5 L1229.8,900.2 L1232.4,899.9 L1235.0,899.6 L1237.6,899.2 L1240.2,898.8 L1242.8,898.4 L1245.4,898.0 L1248.0,897.5 L1250.6,897.1 L1253.1,896.5 L1255.7,896.0 L1258.3,895.4 L1260.9,894.7 L1263.5,894.1 L1266.1,893.4 L1268.7,892.6 L1271.3,891.8 L1273.8,890.9 L1276.4,890.0 L1279.0,889.0 L1281.6,888.0 L1284.2,886.9 L1286.8,885.7 L1289.4,884.4 L1292.0,883.1 L1294.5,881.7 L1297.1,880.2 L1299.7,878.6 L1302.3,877.0 L1304.9,875.2 L1307.5,873.4 L1310.1,871.4 L1312.7,869.3 L1315.2,867.2 L1317.8,864.9 L1320.4,862.5 L1323.0,859.9 L1325.6,857.3 L1328.2,854.5 L1330.8,851.6 L1333.4,848.6 L1336.0,845.4 L1338.5,842.1 L1341.1,838.7 L1343.7,835.1 L1346.3,831.4 L1348.9,827.6 L1351.5,823.6 L1354.1,819.6 L1356.7,815.4 L1359.2,811.1 L1361.8,806.7 L1364.4,802.2 L1367.0,797.5 L1369.6,792.8 L1372.2,788.1 L1374.8,783.2 L1377.4,778.3 L1379.9,773.4 L1382.5,768.4 L1385.1,763.4 L1387.7,758.4 L1390.3,753.3 L1392.9,748.3 L1395.5,743.3 L1398.1,738.4 L1400.7,733.4 L1403.2,728.6 L1405.8,723.8 L1408.4,719.0 L1411.0,714.4 L1413.6,709.8 L1416.2,705.4 L1418.8,701.0 L1421.4,696.8 L1423.9,692.7 L1426.5,688.7 L1429.1,684.8 L1431.7,681.0 L1434.3,677.4 L1436.9,673.9 L1439.5,670.6 L1442.1,667.4 L1444.6,664.3 L1447.2,661.3 L1449.8,658.5 L1452.4,655.8 L1455.0,653.2 L1457.6,650.7 L1460.2,648.4 L1462.8,646.2 L1465.3,644.1 L1467.9,642.1 L1470.5,640.2 L1473.1,638.4 L1475.7,636.7 L1478.3,635.0 L1480.9,633.5 L1483.5,632.1 L1486.1,630.7 L1488.6,629.4 L1491.2,628.2 L1493.8,627.1 L1496.4,626.0 L1499.0,625.0 L1501.6,624.1 L1504.2,623.2 L1506.8,622.4 L1509.3,621.6 L1511.9,620.8 L1514.5,620.1 L1517.1,619.5 L1519.7,618.9 L1522.3,618.3 L1524.9,617.8 L1527.5,617.3 L1530.0,616.8 L1532.6,616.4 L1535.2,615.9 L1537.8,615.5 L1540.4,615.2 L1543.0,614.8 L1545.6,614.5 L1548.2,614.2 L1550.8,614.0 L1553.3,613.7 L1555.9,613.4 L1558.5,613.2 L1561.1,613.0 L1563.7,612.8 L1566.3,612.6 L1568.9,612.4 L1571.5,612.3 L1574.0,612.1 L1576.6,612.0 L1579.2,611.9 L1581.8,611.7 L1584.4,611.6 L1587.0,611.5 L1589.6,611.4 L1592.2,611.3 L1594.7,611.2 L1597.3,611.1 L1599.9,611.1 L1602.5,611.0 L1605.1,610.9 L1607.7,610.9 L1610.3,610.8 L1612.9,610.7 L1615.4,610.7 L1618.0,610.6 L1620.6,610.6 L1623.2,610.6 L1625.8,610.5 L1628.4,610.5 L1631.0,610.4 L1633.6,610.4 L1636.2,610.4 L1638.7,610.4 L1641.3,610.3 L1643.9,610.3 L1646.5,610.3 L1649.1,610.3 L1651.7,610.2 L1654.3,610.2 L1656.9,610.2 L1659.4,610.2 L1662.0,610.2 L1664.6,610.2 L1667.2,610.1 L1669.8,610.1 L1672.4,610.1 L1675.0,610.1 L1677.6,610.1 L1680.1,610.1 L1682.7,610.1 L1685.3,610.1 L1687.9,610.1 L1690.5,610.1" fill="none" stroke="#57a0fd" stroke-width="3.6" stroke-dasharray="6.5 10.5" stroke-linecap="round"/>
<circle cx="1216.7" cy="883.6" r="7.1" fill="#57a0fd"/>
<circle cx="1261.7" cy="861.6" r="7.1" fill="#57a0fd"/>
<circle cx="1306.7" cy="808.7" r="7.1" fill="#57a0fd"/>
<circle cx="1351.7" cy="726.8" r="7.1" fill="#57a0fd"/>
<circle cx="1396.7" cy="657.6" r="7.1" fill="#57a0fd"/>
<circle cx="1441.7" cy="617.2" r="7.1" fill="#57a0fd"/>
<circle cx="1486.7" cy="612.6" r="7.1" fill="#57a0fd"/>
<circle cx="1531.7" cy="617.2" r="7.1" fill="#57a0fd"/>
<circle cx="1576.7" cy="612.1" r="7.1" fill="#57a0fd"/>
<circle cx="1621.7" cy="619.6" r="7.1" fill="#57a0fd"/>
<circle cx="1666.7" cy="628.3" r="7.1" fill="#57a0fd"/>
<path d="M1216.7,895.3 L1223.5,908.7 L1209.9,908.7Z" fill="#57a0fd"/>
<path d="M1261.7,886.4 L1268.5,899.8 L1254.9,899.8Z" fill="#57a0fd"/>
<path d="M1306.7,867.4 L1313.5,880.8 L1299.9,880.8Z" fill="#57a0fd"/>
<path d="M1351.7,820.6 L1358.5,834.0 L1344.9,834.0Z" fill="#57a0fd"/>
<path d="M1396.7,738.5 L1403.5,751.9 L1389.9,751.9Z" fill="#57a0fd"/>
<path d="M1441.7,657.1 L1448.5,670.5 L1434.9,670.5Z" fill="#57a0fd"/>
<path d="M1486.7,626.1 L1493.5,639.5 L1479.9,639.5Z" fill="#57a0fd"/>
<path d="M1531.7,602.2 L1538.5,615.6 L1524.9,615.6Z" fill="#57a0fd"/>
<path d="M1576.7,600.2 L1583.5,613.6 L1569.9,613.6Z" fill="#57a0fd"/>
<path d="M1621.7,613.3 L1628.5,626.7 L1614.9,626.7Z" fill="#57a0fd"/>
<path d="M1666.7,609.3 L1673.5,622.7 L1659.9,622.7Z" fill="#57a0fd"/>
<rect x="1173.50" y="582.30" width="4.00" height="350.40" fill="#000"/>
<rect x="1173.50" y="928.70" width="521.20" height="4.00" fill="#000"/>
<rect x="1165.00" y="582.30" width="10.50" height="4.00" fill="#000"/>
<text transform="translate(1160.50 596.06) scale(1 1.03)" font-size="28.2" text-anchor="end" stroke="#000" stroke-width="0.4" stroke-linejoin="round">3.5</text>
<rect x="1165.00" y="629.24" width="10.50" height="4.00" fill="#000"/>
<text transform="translate(1160.50 643.00) scale(1 1.03)" font-size="28.2" text-anchor="end" stroke="#000" stroke-width="0.4" stroke-linejoin="round">3.0</text>
<rect x="1165.00" y="676.19" width="10.50" height="4.00" fill="#000"/>
<text transform="translate(1160.50 689.94) scale(1 1.03)" font-size="28.2" text-anchor="end" stroke="#000" stroke-width="0.4" stroke-linejoin="round">2.5</text>
<rect x="1165.00" y="723.13" width="10.50" height="4.00" fill="#000"/>
<text transform="translate(1160.50 736.89) scale(1 1.03)" font-size="28.2" text-anchor="end" stroke="#000" stroke-width="0.4" stroke-linejoin="round">2.0</text>
<rect x="1165.00" y="770.07" width="10.50" height="4.00" fill="#000"/>
<text transform="translate(1160.50 783.83) scale(1 1.03)" font-size="28.2" text-anchor="end" stroke="#000" stroke-width="0.4" stroke-linejoin="round">1.5</text>
<rect x="1165.00" y="817.01" width="10.50" height="4.00" fill="#000"/>
<text transform="translate(1160.50 830.77) scale(1 1.03)" font-size="28.2" text-anchor="end" stroke="#000" stroke-width="0.4" stroke-linejoin="round">1.0</text>
<rect x="1165.00" y="863.96" width="10.50" height="4.00" fill="#000"/>
<text transform="translate(1160.50 877.72) scale(1 1.03)" font-size="28.2" text-anchor="end" stroke="#000" stroke-width="0.4" stroke-linejoin="round">0.5</text>
<rect x="1165.00" y="910.90" width="10.50" height="4.00" fill="#000"/>
<text transform="translate(1160.50 924.66) scale(1 1.03)" font-size="28.2" text-anchor="end" stroke="#000" stroke-width="0.4" stroke-linejoin="round">0.0</text>
<rect x="1173.50" y="930.70" width="4.00" height="10.60" fill="#000"/>
<text transform="translate(1175.50 974.20) scale(1 1.065)" font-size="28.2" text-anchor="middle" stroke="#000" stroke-width="0.4" stroke-linejoin="round">0.001</text>
<rect x="1259.70" y="930.70" width="4.00" height="10.60" fill="#000"/>
<text transform="translate(1261.70 974.20) scale(1 1.065)" font-size="28.2" text-anchor="middle" stroke="#000" stroke-width="0.4" stroke-linejoin="round">0.01</text>
<rect x="1345.90" y="930.70" width="4.00" height="10.60" fill="#000"/>
<text transform="translate(1347.90 974.20) scale(1 1.065)" font-size="28.2" text-anchor="middle" stroke="#000" stroke-width="0.4" stroke-linejoin="round">0.1</text>
<rect x="1432.10" y="930.70" width="4.00" height="10.60" fill="#000"/>
<text transform="translate(1434.10 974.20) scale(1 1.065)" font-size="28.2" text-anchor="middle" stroke="#000" stroke-width="0.4" stroke-linejoin="round">1</text>
<rect x="1518.30" y="930.70" width="4.00" height="10.60" fill="#000"/>
<text transform="translate(1520.30 974.20) scale(1 1.065)" font-size="28.2" text-anchor="middle" stroke="#000" stroke-width="0.4" stroke-linejoin="round">10</text>
<rect x="1604.50" y="930.70" width="4.00" height="10.60" fill="#000"/>
<text transform="translate(1606.50 974.20) scale(1 1.065)" font-size="28.2" text-anchor="middle" stroke="#000" stroke-width="0.4" stroke-linejoin="round">100</text>
<rect x="1690.70" y="930.70" width="4.00" height="10.60" fill="#000"/>
<text transform="translate(1692.70 974.20) scale(1 1.065)" font-size="28.2" text-anchor="middle" stroke="#000" stroke-width="0.4" stroke-linejoin="round">1000</text>
<text transform="translate(1434.50 1021.60)" font-size="33.9" text-anchor="middle" stroke="#000" stroke-width="0.4" stroke-linejoin="round">E07 mAb (nM)</text>
<text transform="translate(1101.00 755.60) rotate(-90) scale(1 0.985)" font-size="33.8" text-anchor="middle" stroke="#000" stroke-width="0.4" stroke-linejoin="round">O.D. 450 nm</text>
<path d="M514.3,1156.0 L516.8,1156.1 L519.3,1156.2 L521.9,1156.4 L524.4,1156.5 L526.9,1156.6 L529.4,1156.7 L532.0,1156.9 L534.5,1157.0 L537.0,1157.2 L539.5,1157.4 L542.1,1157.6 L544.6,1157.7 L547.1,1157.9 L549.6,1158.1 L552.2,1158.4 L554.7,1158.6 L557.2,1158.8 L559.7,1159.1 L562.2,1159.4 L564.8,1159.7 L567.3,1160.0 L569.8,1160.3 L572.3,1160.6 L574.9,1161.0 L577.4,1161.3 L579.9,1161.7 L582.4,1162.1 L585.0,1162.5 L587.5,1163.0 L590.0,1163.5 L592.5,1164.0 L595.1,1164.5 L597.6,1165.0 L600.1,1165.6 L602.6,1166.2 L605.2,1166.9 L607.7,1167.5 L610.2,1168.2 L612.7,1169.0 L615.2,1169.7 L617.8,1170.5 L620.3,1171.4 L622.8,1172.3 L625.3,1173.2 L627.9,1174.2 L630.4,1175.2 L632.9,1176.3 L635.4,1177.4 L638.0,1178.6 L640.5,1179.8 L643.0,1181.1 L645.5,1182.4 L648.1,1183.8 L650.6,1185.3 L653.1,1186.8 L655.6,1188.4 L658.1,1190.1 L660.7,1191.8 L663.2,1193.6 L665.7,1195.4 L668.2,1197.4 L670.8,1199.4 L673.3,1201.5 L675.8,1203.6 L678.3,1205.9 L680.9,1208.2 L683.4,1210.6 L685.9,1213.0 L688.4,1215.6 L691.0,1218.2 L693.5,1220.9 L696.0,1223.7 L698.5,1226.6 L701.0,1229.6 L703.6,1232.6 L706.1,1235.7 L708.6,1238.9 L711.1,1242.1 L713.7,1245.4 L716.2,1248.8 L718.7,1252.3 L721.2,1255.8 L723.8,1259.3 L726.3,1263.0 L728.8,1266.6 L731.3,1270.3 L733.9,1274.1 L736.4,1277.9 L738.9,1281.7 L741.4,1285.5 L743.9,1289.4 L746.5,1293.3 L749.0,1297.2 L751.5,1301.1 L754.0,1304.9 L756.6,1308.8 L759.1,1312.7 L761.6,1316.5 L764.1,1320.4 L766.7,1324.2 L769.2,1327.9 L771.7,1331.6 L774.2,1335.3 L776.8,1338.9 L779.3,1342.5 L781.8,1346.0 L784.3,1349.5 L786.9,1352.9 L789.4,1356.2 L791.9,1359.5 L794.4,1362.7 L796.9,1365.8 L799.5,1368.9 L802.0,1371.8 L804.5,1374.7 L807.0,1377.5 L809.6,1380.3 L812.1,1382.9 L814.6,1385.5 L817.1,1388.0 L819.7,1390.4 L822.2,1392.7 L824.7,1395.0 L827.2,1397.2 L829.8,1399.3 L832.3,1401.3 L834.8,1403.2 L837.3,1405.1 L839.8,1406.9 L842.4,1408.7 L844.9,1410.3 L847.4,1411.9 L849.9,1413.5 L852.5,1414.9 L855.0,1416.4 L857.5,1417.7 L860.0,1419.0 L862.6,1420.2 L865.1,1421.4 L867.6,1422.6 L870.1,1423.6 L872.7,1424.7 L875.2,1425.7 L877.7,1426.6 L880.2,1427.5 L882.7,1428.4 L885.3,1429.2 L887.8,1430.0 L890.3,1430.7 L892.8,1431.4 L895.4,1432.1 L897.9,1432.8 L900.4,1433.4 L902.9,1434.0 L905.5,1434.5 L908.0,1435.0 L910.5,1435.5 L913.0,1436.0 L915.6,1436.5 L918.1,1436.9 L920.6,1437.3 L923.1,1437.7 L925.6,1438.1 L928.2,1438.4 L930.7,1438.8 L933.2,1439.1 L935.7,1439.4 L938.3,1439.7 L940.8,1440.0 L943.3,1440.2 L945.8,1440.5 L948.4,1440.7 L950.9,1440.9 L953.4,1441.1 L955.9,1441.3 L958.5,1441.5 L961.0,1441.7 L963.5,1441.9 L966.0,1442.0 L968.6,1442.2 L971.1,1442.3 L973.6,1442.5 L976.1,1442.6 L978.6,1442.7 L981.2,1442.9 L983.7,1443.0 L986.2,1443.1 L988.7,1443.2 L991.3,1443.3 L993.8,1443.4 L996.3,1443.5 L998.8,1443.5 L1001.4,1443.6 L1003.9,1443.7 L1006.4,1443.8 L1008.9,1443.8 L1011.5,1443.9 L1014.0,1443.9 L1016.5,1444.0" fill="none" stroke="#f94144" stroke-width="3.6"/>
<rect x="499.80" y="1093.85" width="4.00" height="355.15" fill="#000"/>
<rect x="486.60" y="1445.00" width="544.50" height="4.00" fill="#000"/>
<rect x="486.60" y="1093.85" width="15.20" height="4.00" fill="#000"/>
<text transform="translate(483.00 1106.60) scale(1 1.035)" font-size="29.3" text-anchor="end" stroke="#000" stroke-width="0.4" stroke-linejoin="round">120</text>
<rect x="486.60" y="1152.38" width="15.20" height="4.00" fill="#000"/>
<text transform="translate(483.00 1165.13) scale(1 1.035)" font-size="29.3" text-anchor="end" stroke="#000" stroke-width="0.4" stroke-linejoin="round">100</text>
<rect x="486.60" y="1210.90" width="15.20" height="4.00" fill="#000"/>
<text transform="translate(483.00 1223.65) scale(1 1.035)" font-size="29.3" text-anchor="end" stroke="#000" stroke-width="0.4" stroke-linejoin="round">80</text>
<rect x="486.60" y="1269.42" width="15.20" height="4.00" fill="#000"/>
<text transform="translate(483.00 1282.18) scale(1 1.035)" font-size="29.3" text-anchor="end" stroke="#000" stroke-width="0.4" stroke-linejoin="round">60</text>
<rect x="486.60" y="1327.95" width="15.20" height="4.00" fill="#000"/>
<text transform="translate(483.00 1340.70) scale(1 1.035)" font-size="29.3" text-anchor="end" stroke="#000" stroke-width="0.4" stroke-linejoin="round">40</text>
<rect x="486.60" y="1386.47" width="15.20" height="4.00" fill="#000"/>
<text transform="translate(483.00 1399.23) scale(1 1.035)" font-size="29.3" text-anchor="end" stroke="#000" stroke-width="0.4" stroke-linejoin="round">20</text>
<rect x="486.60" y="1445.00" width="15.20" height="4.00" fill="#000"/>
<text transform="translate(483.00 1457.75) scale(1 1.035)" font-size="29.3" text-anchor="end" stroke="#000" stroke-width="0.4" stroke-linejoin="round">0</text>
<rect x="499.60" y="1447.00" width="4.00" height="15.40" fill="#000"/>
<text transform="translate(501.60 1493.90) scale(1 1.03)" font-size="29.3" text-anchor="middle" stroke="#000" stroke-width="0.4" stroke-linejoin="round">0.01</text>
<rect x="605.10" y="1447.00" width="4.00" height="15.40" fill="#000"/>
<text transform="translate(607.10 1493.90) scale(1 1.03)" font-size="29.3" text-anchor="middle" stroke="#000" stroke-width="0.4" stroke-linejoin="round">0.1</text>
<rect x="710.60" y="1447.00" width="4.00" height="15.40" fill="#000"/>
<text transform="translate(712.60 1493.90) scale(1 1.03)" font-size="29.3" text-anchor="middle" stroke="#000" stroke-width="0.4" stroke-linejoin="round">1</text>
<rect x="816.10" y="1447.00" width="4.00" height="15.40" fill="#000"/>
<text transform="translate(818.10 1493.90) scale(1 1.03)" font-size="29.3" text-anchor="middle" stroke="#000" stroke-width="0.4" stroke-linejoin="round">10</text>
<rect x="921.60" y="1447.00" width="4.00" height="15.40" fill="#000"/>
<text transform="translate(923.60 1493.90) scale(1 1.03)" font-size="29.3" text-anchor="middle" stroke="#000" stroke-width="0.4" stroke-linejoin="round">100</text>
<rect x="1027.10" y="1447.00" width="4.00" height="15.40" fill="#000"/>
<text transform="translate(1029.10 1493.90) scale(1 1.03)" font-size="29.3" text-anchor="middle" stroke="#000" stroke-width="0.4" stroke-linejoin="round">1000</text>
<circle cx="514.3" cy="1105.4" r="7.35" fill="#f94144"/>
<circle cx="564.6" cy="1158.4" r="7.35" fill="#f94144"/>
<circle cx="615.0" cy="1206.1" r="7.35" fill="#f94144"/>
<circle cx="665.3" cy="1227.5" r="7.35" fill="#f94144"/>
<circle cx="715.7" cy="1244.1" r="7.35" fill="#f94144"/>
<circle cx="766.0" cy="1314.6" r="7.35" fill="#f94144"/>
<circle cx="816.3" cy="1376.5" r="7.35" fill="#f94144"/>
<circle cx="866.7" cy="1433.3" r="7.35" fill="#f94144"/>
<circle cx="917.0" cy="1443.3" r="7.35" fill="#f94144"/>
<circle cx="967.4" cy="1447.0" r="7.35" fill="#f94144"/>
<circle cx="1017.7" cy="1436.0" r="7.35" fill="#f94144"/>
<text transform="translate(765.20 1554.10) scale(1 1.02)" font-size="34.5" text-anchor="middle" stroke="#000" stroke-width="0.4" stroke-linejoin="round">D11 mAb (nM)</text>
<text transform="translate(415.60 1269.40) rotate(-90) scale(1 0.985)" font-size="33.8" text-anchor="middle" stroke="#000" stroke-width="0.4" stroke-linejoin="round">Gal-3-ASF binding (%)</text>
<path d="M1188.1,1172.9 L1190.6,1173.1 L1193.2,1173.2 L1195.7,1173.3 L1198.2,1173.5 L1200.7,1173.6 L1203.3,1173.8 L1205.8,1174.0 L1208.3,1174.2 L1210.8,1174.3 L1213.4,1174.5 L1215.9,1174.8 L1218.4,1175.0 L1220.9,1175.2 L1223.5,1175.5 L1226.0,1175.7 L1228.5,1176.0 L1231.0,1176.3 L1233.6,1176.6 L1236.1,1176.9 L1238.6,1177.3 L1241.1,1177.6 L1243.7,1178.0 L1246.2,1178.4 L1248.7,1178.8 L1251.2,1179.3 L1253.8,1179.7 L1256.3,1180.2 L1258.8,1180.7 L1261.3,1181.3 L1263.9,1181.8 L1266.4,1182.4 L1268.9,1183.1 L1271.4,1183.7 L1274.0,1184.4 L1276.5,1185.1 L1279.0,1185.9 L1281.5,1186.7 L1284.1,1187.5 L1286.6,1188.4 L1289.1,1189.3 L1291.7,1190.2 L1294.2,1191.2 L1296.7,1192.3 L1299.2,1193.4 L1301.8,1194.5 L1304.3,1195.7 L1306.8,1197.0 L1309.3,1198.3 L1311.9,1199.6 L1314.4,1201.0 L1316.9,1202.5 L1319.4,1204.1 L1322.0,1205.6 L1324.5,1207.3 L1327.0,1209.0 L1329.5,1210.8 L1332.1,1212.7 L1334.6,1214.6 L1337.1,1216.6 L1339.6,1218.7 L1342.2,1220.8 L1344.7,1223.0 L1347.2,1225.3 L1349.7,1227.6 L1352.3,1230.0 L1354.8,1232.5 L1357.3,1235.1 L1359.8,1237.7 L1362.4,1240.4 L1364.9,1243.1 L1367.4,1245.9 L1369.9,1248.8 L1372.5,1251.7 L1375.0,1254.7 L1377.5,1257.7 L1380.0,1260.8 L1382.6,1263.9 L1385.1,1267.1 L1387.6,1270.3 L1390.2,1273.6 L1392.7,1276.8 L1395.2,1280.1 L1397.7,1283.5 L1400.3,1286.8 L1402.8,1290.1 L1405.3,1293.5 L1407.8,1296.9 L1410.4,1300.2 L1412.9,1303.6 L1415.4,1306.9 L1417.9,1310.2 L1420.5,1313.5 L1423.0,1316.8 L1425.5,1320.0 L1428.0,1323.2 L1430.6,1326.3 L1433.1,1329.5 L1435.6,1332.5 L1438.1,1335.5 L1440.7,1338.5 L1443.2,1341.4 L1445.7,1344.3 L1448.2,1347.0 L1450.8,1349.8 L1453.3,1352.4 L1455.8,1355.0 L1458.3,1357.5 L1460.9,1360.0 L1463.4,1362.4 L1465.9,1364.7 L1468.4,1367.0 L1471.0,1369.1 L1473.5,1371.2 L1476.0,1373.3 L1478.5,1375.2 L1481.1,1377.1 L1483.6,1379.0 L1486.1,1380.7 L1488.6,1382.4 L1491.2,1384.1 L1493.7,1385.7 L1496.2,1387.2 L1498.8,1388.6 L1501.3,1390.0 L1503.8,1391.4 L1506.3,1392.6 L1508.9,1393.9 L1511.4,1395.0 L1513.9,1396.2 L1516.4,1397.2 L1519.0,1398.3 L1521.5,1399.3 L1524.0,1400.2 L1526.5,1401.1 L1529.1,1402.0 L1531.6,1402.8 L1534.1,1403.5 L1536.6,1404.3 L1539.2,1405.0 L1541.7,1405.7 L1544.2,1406.3 L1546.7,1406.9 L1549.3,1407.5 L1551.8,1408.1 L1554.3,1408.6 L1556.8,1409.1 L1559.4,1409.6 L1561.9,1410.0 L1564.4,1410.5 L1566.9,1410.9 L1569.5,1411.3 L1572.0,1411.6 L1574.5,1412.0 L1577.0,1412.3 L1579.6,1412.6 L1582.1,1412.9 L1584.6,1413.2 L1587.1,1413.5 L1589.7,1413.8 L1592.2,1414.0 L1594.7,1414.2 L1597.3,1414.5 L1599.8,1414.7 L1602.3,1414.9 L1604.8,1415.1 L1607.4,1415.2 L1609.9,1415.4 L1612.4,1415.6 L1614.9,1415.7 L1617.5,1415.9 L1620.0,1416.0 L1622.5,1416.1 L1625.0,1416.3 L1627.6,1416.4 L1630.1,1416.5 L1632.6,1416.6 L1635.1,1416.7 L1637.7,1416.8 L1640.2,1416.9 L1642.7,1417.0 L1645.2,1417.0 L1647.8,1417.1 L1650.3,1417.2 L1652.8,1417.3 L1655.3,1417.3 L1657.9,1417.4 L1660.4,1417.4 L1662.9,1417.5 L1665.4,1417.6 L1668.0,1417.6 L1670.5,1417.7 L1673.0,1417.7 L1675.5,1417.7 L1678.1,1417.8 L1680.6,1417.8 L1683.1,1417.9 L1685.6,1417.9 L1688.2,1417.9 L1690.7,1418.0" fill="none" stroke="#57a0fd" stroke-width="3.6"/>
<rect x="1173.75" y="1094.20" width="4.00" height="354.70" fill="#000"/>
<rect x="1160.55" y="1444.90" width="544.25" height="4.00" fill="#000"/>
<rect x="1160.55" y="1099.50" width="15.20" height="4.00" fill="#000"/>
<text transform="translate(1156.95 1112.25) scale(1 1.035)" font-size="29.3" text-anchor="end" stroke="#000" stroke-width="0.4" stroke-linejoin="round">125</text>
<rect x="1160.55" y="1168.58" width="15.20" height="4.00" fill="#000"/>
<text transform="translate(1156.95 1181.33) scale(1 1.035)" font-size="29.3" text-anchor="end" stroke="#000" stroke-width="0.4" stroke-linejoin="round">100</text>
<rect x="1160.55" y="1237.66" width="15.20" height="4.00" fill="#000"/>
<text transform="translate(1156.95 1250.41) scale(1 1.035)" font-size="29.3" text-anchor="end" stroke="#000" stroke-width="0.4" stroke-linejoin="round">75</text>
<rect x="1160.55" y="1306.74" width="15.20" height="4.00" fill="#000"/>
<text transform="translate(1156.95 1319.49) scale(1 1.035)" font-size="29.3" text-anchor="end" stroke="#000" stroke-width="0.4" stroke-linejoin="round">50</text>
<rect x="1160.55" y="1375.82" width="15.20" height="4.00" fill="#000"/>
<text transform="translate(1156.95 1388.57) scale(1 1.035)" font-size="29.3" text-anchor="end" stroke="#000" stroke-width="0.4" stroke-linejoin="round">25</text>
<rect x="1160.55" y="1444.90" width="15.20" height="4.00" fill="#000"/>
<text transform="translate(1156.95 1457.65) scale(1 1.035)" font-size="29.3" text-anchor="end" stroke="#000" stroke-width="0.4" stroke-linejoin="round">0</text>
<rect x="1173.70" y="1446.90" width="4.00" height="15.40" fill="#000"/>
<text transform="translate(1175.70 1493.90) scale(1 1.03)" font-size="29.3" text-anchor="middle" stroke="#000" stroke-width="0.4" stroke-linejoin="round">0.01</text>
<rect x="1279.12" y="1446.90" width="4.00" height="15.40" fill="#000"/>
<text transform="translate(1281.12 1493.90) scale(1 1.03)" font-size="29.3" text-anchor="middle" stroke="#000" stroke-width="0.4" stroke-linejoin="round">0.1</text>
<rect x="1384.54" y="1446.90" width="4.00" height="15.40" fill="#000"/>
<text transform="translate(1386.54 1493.90) scale(1 1.03)" font-size="29.3" text-anchor="middle" stroke="#000" stroke-width="0.4" stroke-linejoin="round">1</text>
<rect x="1489.96" y="1446.90" width="4.00" height="15.40" fill="#000"/>
<text transform="translate(1491.96 1493.90) scale(1 1.03)" font-size="29.3" text-anchor="middle" stroke="#000" stroke-width="0.4" stroke-linejoin="round">10</text>
<rect x="1595.38" y="1446.90" width="4.00" height="15.40" fill="#000"/>
<text transform="translate(1597.38 1493.90) scale(1 1.03)" font-size="29.3" text-anchor="middle" stroke="#000" stroke-width="0.4" stroke-linejoin="round">100</text>
<rect x="1700.80" y="1446.90" width="4.00" height="15.40" fill="#000"/>
<text transform="translate(1702.80 1493.90) scale(1 1.03)" font-size="29.3" text-anchor="middle" stroke="#000" stroke-width="0.4" stroke-linejoin="round">1000</text>
<circle cx="1188.1" cy="1097.8" r="7.35" fill="#57a0fd"/>
<circle cx="1238.4" cy="1224.7" r="7.35" fill="#57a0fd"/>
<circle cx="1288.8" cy="1222.0" r="7.35" fill="#57a0fd"/>
<circle cx="1339.1" cy="1217.1" r="7.35" fill="#57a0fd"/>
<circle cx="1389.5" cy="1282.6" r="7.35" fill="#57a0fd"/>
<circle cx="1439.8" cy="1316.9" r="7.35" fill="#57a0fd"/>
<circle cx="1490.1" cy="1370.2" r="7.35" fill="#57a0fd"/>
<circle cx="1540.5" cy="1432.0" r="7.35" fill="#57a0fd"/>
<circle cx="1590.8" cy="1435.7" r="7.35" fill="#57a0fd"/>
<circle cx="1641.2" cy="1417.9" r="7.35" fill="#57a0fd"/>
<circle cx="1691.5" cy="1388.7" r="7.35" fill="#57a0fd"/>
<text transform="translate(1439.80 1554.10) scale(1 1.02)" font-size="34.5" text-anchor="middle" stroke="#000" stroke-width="0.4" stroke-linejoin="round">E07 mAb (nM)</text>
<text transform="translate(1088.60 1269.40) rotate(-90) scale(1 0.985)" font-size="33.8" text-anchor="middle" stroke="#000" stroke-width="0.4" stroke-linejoin="round">Gal-3-ASF binding (%)</text>
<text transform="translate(1.00 49.30)" font-size="56.5" text-anchor="start" stroke="#000" stroke-width="0.4" stroke-linejoin="round">a</text>
<text transform="translate(-0.10 579.50)" font-size="56.5" text-anchor="start" stroke="#000" stroke-width="0.4" stroke-linejoin="round">b</text>
<text transform="translate(2.00 1061.00)" font-size="56.5" text-anchor="start" stroke="#000" stroke-width="0.4" stroke-linejoin="round">c</text>
<text transform="translate(-0.80 1691.20)" font-size="56.5" text-anchor="start" stroke="#000" stroke-width="0.4" stroke-linejoin="round">d</text>
<rect x="409.40" y="1633.30" width="1476.40" height="121.20" fill="#f2f2f2"/>
<rect x="409.40" y="1816.30" width="1476.40" height="124.30" fill="#f2f2f2"/>
<rect x="406.95" y="1630.85" width="1481.30" height="4.90" fill="#000"/>
<rect x="155.15" y="1752.05" width="1733.10" height="4.90" fill="#000"/>
<rect x="155.15" y="1813.85" width="1733.10" height="4.90" fill="#000"/>
<rect x="155.15" y="1875.95" width="1733.10" height="4.90" fill="#000"/>
<rect x="155.15" y="1938.15" width="1733.10" height="4.90" fill="#000"/>
<rect x="155.15" y="1754.50" width="4.90" height="186.10" fill="#000"/>
<rect x="406.95" y="1633.30" width="4.90" height="307.30" fill="#000"/>
<rect x="1883.35" y="1633.30" width="4.90" height="307.30" fill="#000"/>
<rect x="652.95" y="1633.30" width="4.90" height="121.20" fill="#000"/>
<rect x="652.95" y="1816.30" width="4.90" height="124.30" fill="#000"/>
<rect x="898.85" y="1633.30" width="4.90" height="121.20" fill="#000"/>
<rect x="898.85" y="1816.30" width="4.90" height="124.30" fill="#000"/>
<rect x="1145.15" y="1633.30" width="4.90" height="121.20" fill="#000"/>
<rect x="1145.15" y="1816.30" width="4.90" height="124.30" fill="#000"/>
<rect x="1391.15" y="1633.30" width="4.90" height="121.20" fill="#000"/>
<rect x="1391.15" y="1816.30" width="4.90" height="124.30" fill="#000"/>
<rect x="1637.25" y="1633.30" width="4.90" height="121.20" fill="#000"/>
<rect x="1637.25" y="1816.30" width="4.90" height="124.30" fill="#000"/>
<text transform="translate(469.63 1689.40) scale(1 1.03)" font-size="38.3" text-anchor="start" stroke="#000" stroke-width="0.4" stroke-linejoin="round">h</text>
<text transform="translate(495.13 1689.40) scale(1 1.03)" font-size="38.3" text-anchor="start" stroke="#000" stroke-width="0.4" stroke-linejoin="round">Gal-3</text>
<text transform="translate(531.60 1734.70) scale(1 1.03)" font-size="38.3" text-anchor="middle" stroke="#000" stroke-width="0.4" stroke-linejoin="round">(FL)</text>
<text transform="translate(533.70 1864.30) scale(1 1.02)" font-size="38.6" text-anchor="middle" font-weight="normal" stroke="#000" stroke-width="0.3" stroke-linejoin="round">14.9</text>
<text transform="translate(533.70 1926.70) scale(1 1.02)" font-size="38.6" text-anchor="middle" font-weight="normal" stroke="#000" stroke-width="0.3" stroke-linejoin="round">9.0</text>
<text transform="translate(708.83 1689.40) scale(1 1.03)" font-size="38.3" text-anchor="start" stroke="#000" stroke-width="0.4" stroke-linejoin="round">m</text>
<text transform="translate(749.18 1689.40) scale(1 1.03)" font-size="38.3" text-anchor="start" stroke="#000" stroke-width="0.4" stroke-linejoin="round">Gal-3</text>
<text transform="translate(777.55 1734.70) scale(1 1.03)" font-size="38.3" text-anchor="middle" stroke="#000" stroke-width="0.4" stroke-linejoin="round">(FL)</text>
<text transform="translate(779.65 1864.30) scale(1 1.02)" font-size="38.6" text-anchor="middle" font-weight="normal" stroke="#000" stroke-width="0.3" stroke-linejoin="round">2.8</text>
<text transform="translate(779.65 1926.70) scale(1 1.02)" font-size="38.6" text-anchor="middle" font-weight="normal" stroke="#000" stroke-width="0.3" stroke-linejoin="round">4.1</text>
<text transform="translate(961.93 1689.40) scale(1 1.03)" font-size="38.3" text-anchor="start" stroke="#000" stroke-width="0.4" stroke-linejoin="round">h</text>
<text transform="translate(987.48 1689.40) scale(1 1.03)" font-size="38.3" text-anchor="start" stroke="#000" stroke-width="0.4" stroke-linejoin="round">Gal-3</text>
<text transform="translate(1022.35 1734.70) scale(1 1.03)" font-size="38.3" text-anchor="middle" letter-spacing="-0.65" stroke="#000" stroke-width="0.4" stroke-linejoin="round">(CRD)</text>
<text transform="translate(1025.75 1864.30) scale(1 1.02)" font-size="38.6" text-anchor="middle" font-weight="normal" stroke="#000" stroke-width="0.3" stroke-linejoin="round">26.4</text>
<text transform="translate(1025.75 1926.70) scale(1 1.02)" font-size="38.6" text-anchor="middle" font-weight="normal" stroke="#000" stroke-width="0.3" stroke-linejoin="round">14.4</text>
<text transform="translate(1213.33 1689.40) scale(1 1.03)" font-size="38.3" text-anchor="start" stroke="#000" stroke-width="0.4" stroke-linejoin="round">r</text>
<text transform="translate(1231.33 1689.40) scale(1 1.03)" font-size="38.3" text-anchor="start" stroke="#000" stroke-width="0.4" stroke-linejoin="round">Gal-3</text>
<text transform="translate(1269.50 1734.70) scale(1 1.03)" font-size="38.3" text-anchor="middle" letter-spacing="-0.65" stroke="#000" stroke-width="0.4" stroke-linejoin="round">(CRD)</text>
<text transform="translate(1272.90 1864.30) scale(1 1.02)" font-size="38.6" text-anchor="middle" font-weight="normal" stroke="#000" stroke-width="0.3" stroke-linejoin="round">8.6</text>
<text transform="translate(1272.90 1926.70) scale(1 1.02)" font-size="38.6" text-anchor="middle" font-weight="normal" stroke="#000" stroke-width="0.3" stroke-linejoin="round">15.0</text>
<text transform="translate(1460.85 1689.40) scale(1 1.03)" font-size="38.3" text-anchor="start" stroke="#000" stroke-width="0.4" stroke-linejoin="round">c</text>
<text transform="translate(1481.78 1689.40) scale(1 1.03)" font-size="38.3" text-anchor="start" stroke="#000" stroke-width="0.4" stroke-linejoin="round">Gal-3</text>
<text transform="translate(1515.55 1734.70) scale(1 1.03)" font-size="38.3" text-anchor="middle" letter-spacing="-0.65" stroke="#000" stroke-width="0.4" stroke-linejoin="round">(CRD)</text>
<text transform="translate(1518.95 1864.30) scale(1 1.02)" font-size="38.6" text-anchor="middle" font-weight="normal" stroke="#000" stroke-width="0.3" stroke-linejoin="round">11.4</text>
<text transform="translate(1518.95 1926.70) scale(1 1.02)" font-size="38.6" text-anchor="middle" font-weight="normal" stroke="#000" stroke-width="0.3" stroke-linejoin="round">7.1</text>
<text transform="translate(1703.73 1689.40) scale(1 1.03)" font-size="38.3" text-anchor="start" stroke="#000" stroke-width="0.4" stroke-linejoin="round">d</text>
<text transform="translate(1727.38 1689.40) scale(1 1.03)" font-size="38.3" text-anchor="start" stroke="#000" stroke-width="0.4" stroke-linejoin="round">Gal-3</text>
<text transform="translate(1761.65 1734.70) scale(1 1.03)" font-size="38.3" text-anchor="middle" letter-spacing="-0.65" stroke="#000" stroke-width="0.4" stroke-linejoin="round">(CRD)</text>
<text transform="translate(1765.05 1864.30) scale(1 1.02)" font-size="38.6" text-anchor="middle" font-weight="normal" stroke="#000" stroke-width="0.3" stroke-linejoin="round">24.7</text>
<text transform="translate(1765.05 1926.70) scale(1 1.02)" font-size="38.6" text-anchor="middle" font-weight="normal" stroke="#000" stroke-width="0.3" stroke-linejoin="round">21.5</text>
<text transform="translate(236.40 1803.20) scale(1 1.04)" font-size="38" text-anchor="start" stroke="#000" stroke-width="0.4" stroke-linejoin="round">m</text>
<text transform="translate(275.50 1803.20) scale(1 1.04)" font-size="38" text-anchor="start" stroke="#000" stroke-width="0.4" stroke-linejoin="round">Ab</text>
<text transform="translate(250.20 1865.60) scale(1 1.04)" font-size="38" text-anchor="start" stroke="#000" stroke-width="0.4" stroke-linejoin="round">D11</text>
<text transform="translate(250.20 1927.40) scale(1 1.04)" font-size="38" text-anchor="start" letter-spacing="-1.0" stroke="#000" stroke-width="0.4" stroke-linejoin="round">E07</text>
<text transform="translate(1149.00 1802.50) scale(1 1.02)" font-size="38.1" text-anchor="middle" font-weight="normal" stroke="#000" stroke-width="0.3" stroke-linejoin="round">KD values (nM)</text>
</svg>
</body></html>
